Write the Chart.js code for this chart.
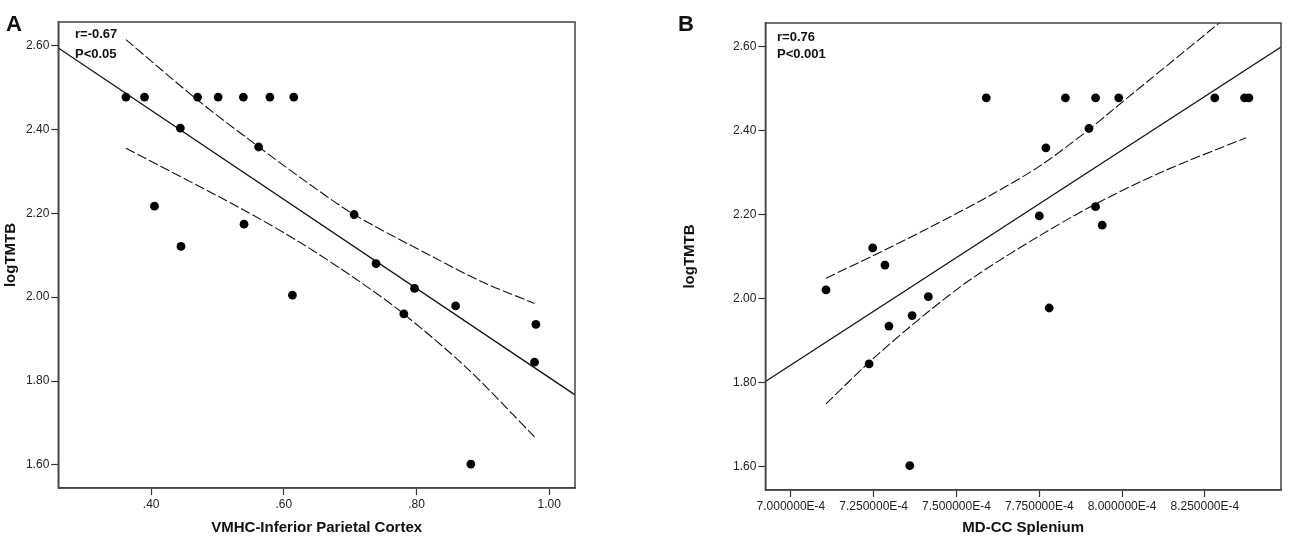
<!DOCTYPE html>
<html>
<head>
<meta charset="utf-8">
<script src="https://cdn.jsdelivr.net/npm/chart.js@4.4.1/dist/chart.umd.min.js"></script>
<style>
  body { margin:0; background:#fff; width:1300px; height:547px; position:relative; overflow:hidden;
         font-family:'Liberation Sans', Arial, sans-serif; }
  .panel { position:absolute; top:0; width:650px; height:547px; }
  .tag  { position:absolute; font-weight:bold; font-size:22px; line-height:1; color:#111; }
  .note { position:absolute; font-weight:bold; font-size:13px; line-height:1; color:#111; }
</style>
</head>
<body>
<div class="panel" style="left:0"><canvas id="chartA"></canvas></div>
<div class="panel" style="left:650px"><canvas id="chartB"></canvas></div>
<div class="tag" style="left:6px;top:13px">A</div>
<div class="tag" style="left:678px;top:13px">B</div>
<div class="note" style="left:75px;top:27px">r=-0.67</div>
<div class="note" style="left:75px;top:47px">P&lt;0.05</div>
<div class="note" style="left:777px;top:30px">r=0.76</div>
<div class="note" style="left:777px;top:47px">P&lt;0.001</div>
<script>
// ---- shared y axis ----
const yTicks  = [1.6, 1.8, 2.0, 2.2, 2.4, 2.6];
const yLabels = ['1.60', '1.80', '2.00', '2.20', '2.40', '2.60'];

// ---- Panel A: VMHC-Inferior Parietal Cortex vs logTMTB ----
const aX = [0.362, 0.390, 0.470, 0.501, 0.539, 0.579, 0.615, 0.444, 0.562, 0.405, 0.540,
            0.445, 0.706, 0.739, 0.613, 0.797, 0.781, 0.859, 0.980, 0.978, 0.882];
const aY = [2.477, 2.477, 2.477, 2.477, 2.477, 2.477, 2.477, 2.403, 2.358, 2.217, 2.174,
            2.121, 2.197, 2.080, 2.005, 2.021, 1.960, 1.979, 1.935, 1.845, 1.602];
const aFitX = [0.26, 1.039];
const aFitY = [2.594, 1.767];
const aUpX  = [0.362, 0.470, 0.559, 0.625, 0.705, 0.826, 0.901, 0.978];
const aUpY  = [2.614, 2.470, 2.362, 2.285, 2.198, 2.095, 2.035, 1.985];
const aLoX  = [0.362, 0.536, 0.625, 0.707, 0.776, 0.876, 0.978];
const aLoY  = [2.355, 2.211, 2.130, 2.045, 1.966, 1.831, 1.667];
const aXTicks  = [0.4, 0.6, 0.8, 1.0];
const aXLabels = ['.40', '.60', '.80', '1.00'];

// ---- Panel B: MD-CC Splenium vs logTMTB ----
const bX = [7.590e-4, 7.829e-4, 7.920e-4, 7.990e-4, 8.280e-4, 8.370e-4, 8.383e-4, 7.900e-4,
            7.770e-4, 7.750e-4, 7.920e-4, 7.940e-4, 7.247e-4, 7.284e-4, 7.106e-4, 7.415e-4,
            7.366e-4, 7.296e-4, 7.236e-4, 7.359e-4, 7.780e-4];
const bY = [2.478, 2.478, 2.478, 2.478, 2.478, 2.478, 2.478, 2.405, 2.359, 2.197, 2.219,
            2.175, 2.121, 2.080, 2.021, 2.005, 1.960, 1.935, 1.845, 1.603, 1.978];
const bFitX = [6.923e-4, 8.48e-4];
const bFitY = [1.803, 2.599];
const bUpX  = [7.106e-4, 7.247e-4, 7.41e-4, 7.60e-4, 7.75e-4, 7.893e-4, 7.973e-4, 8.074e-4, 8.295e-4];
const bUpY  = [2.049, 2.102, 2.166, 2.245, 2.315, 2.398, 2.450, 2.515, 2.657];
const bLoX  = [7.106e-4, 7.249e-4, 7.41e-4, 7.55e-4, 7.747e-4, 7.912e-4, 8.115e-4, 8.374e-4];
const bLoY  = [1.750, 1.858, 1.966, 2.050, 2.148, 2.222, 2.300, 2.383];
const bXTicks  = [7.0e-4, 7.25e-4, 7.5e-4, 7.75e-4, 8.0e-4, 8.25e-4];
const bXLabels = ['7.000000E-4', '7.250000E-4', '7.500000E-4', '7.750000E-4', '8.000000E-4', '8.250000E-4'];

const pts = (xs, ys) => xs.map((x, i) => ({ x: x, y: ys[i] }));

// box around the plot area
const framePlugin = {
  id: 'frame',
  afterDraw(chart) {
    const { ctx, chartArea: a } = chart;
    ctx.save();
    ctx.strokeStyle = '#444';
    ctx.lineWidth = 1.5;
    ctx.strokeRect(a.left, a.top, a.right - a.left, a.bottom - a.top);
    ctx.restore();
  }
};

function makeChart(id, p) {
  const tickFont = { family: "'Liberation Sans', Arial, sans-serif", size: 12 };
  const titleFont = { family: "'Liberation Sans', Arial, sans-serif", size: 15, weight: 'bold' };
  const axisGrid = { drawOnChartArea: false, tickLength: 7, color: '#333', tickColor: '#333', tickWidth: 1.2 };
  const line = (data, dash, w, t) => ({
    data: data, showLine: true, pointRadius: 0, borderColor: '#111', borderWidth: w,
    borderDash: dash, fill: false, tension: t
  });
  return new Chart(document.getElementById(id), {
    type: 'scatter',
    data: {
      datasets: [
        { data: pts(p.x, p.y), pointRadius: 4.4, pointBackgroundColor: '#000', pointBorderWidth: 0, order: 0 },
        Object.assign(line(pts(p.fitX, p.fitY), [], 1.3, 0), { order: 1 }),
        Object.assign(line(pts(p.upX, p.upY), [10, 3], 1.1, 0.3), { order: 2 }),
        Object.assign(line(pts(p.loX, p.loY), [10, 3], 1.1, 0.3), { order: 3 })
      ]
    },
    options: {
      animation: false,
      responsive: true,
      maintainAspectRatio: false,
      devicePixelRatio: 1,
      layout: { padding: p.pad },
      plugins: { legend: { display: false }, tooltip: { enabled: false } },
      scales: {
        x: {
          type: 'linear', min: p.xMin, max: p.xMax,
          afterBuildTicks: s => { s.ticks = p.xTicks.map(v => ({ value: v })); },
          afterFit: s => { s.height = p.xH; },
          ticks: { font: tickFont, color: '#222', padding: 2, maxRotation: 0, autoSkip: false,
                   callback: (v, i) => p.xLabels[i] },
          grid: axisGrid,
          border: { color: '#444', width: 1.5 },
          title: { display: true, text: p.xTitle, font: titleFont, color: '#111', padding: { top: 4, bottom: 10 } }
        },
        y: {
          type: 'linear', min: 1.545, max: 2.656,
          afterBuildTicks: s => { s.ticks = yTicks.map(v => ({ value: v })); },
          afterFit: s => { s.width = p.yW; },
          ticks: { font: tickFont, color: '#222', padding: 2, autoSkip: false,
                   callback: (v, i) => yLabels[i] },
          grid: axisGrid,
          border: { color: '#444', width: 1.5 },
          title: { display: true, text: 'logTMTB', font: titleFont, color: '#111', padding: { top: 2, bottom: 2 } }
        }
      }
    },
    plugins: [framePlugin]
  });
}

makeChart('chartA', {
  x: aX, y: aY, fitX: aFitX, fitY: aFitY, upX: aUpX, upY: aUpY, loX: aLoX, loY: aLoY,
  xTicks: aXTicks, xLabels: aXLabels, xMin: 0.26, xMax: 1.039,
  xTitle: 'VMHC-Inferior Parietal Cortex',
  pad: { top: 22, right: 75, left: 0, bottom: 0 }, yW: 58.3, xH: 59
});

makeChart('chartB', {
  x: bX, y: bY, fitX: bFitX, fitY: bFitY, upX: bUpX, upY: bUpY, loX: bLoX, loY: bLoY,
  xTicks: bXTicks, xLabels: bXLabels, xMin: 6.923e-4, xMax: 8.48e-4,
  xTitle: 'MD-CC Splenium',
  pad: { top: 23, right: 19, left: 29, bottom: 0 }, yW: 86.4, xH: 57
});
</script>
</body>
</html>
